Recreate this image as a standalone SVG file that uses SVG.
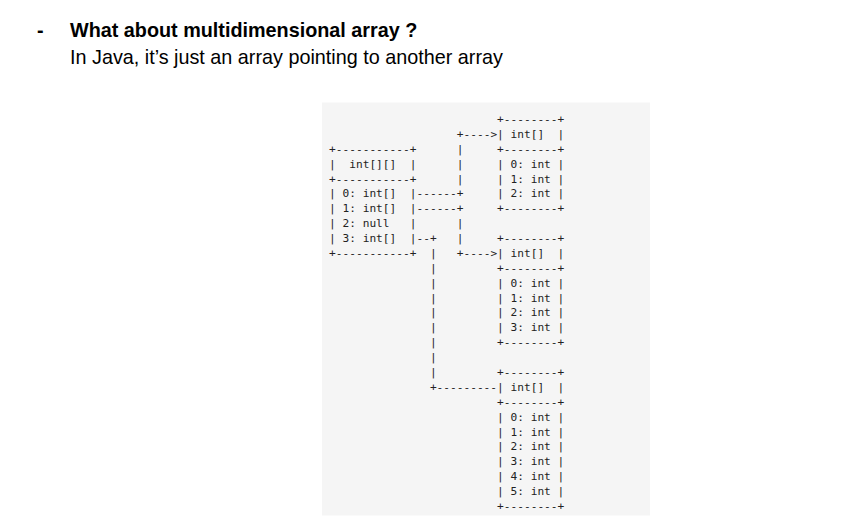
<svg xmlns="http://www.w3.org/2000/svg" width="841" height="531" viewBox="0 0 841 531">
<style>
  .h { font-family: "Liberation Sans", Arial, sans-serif; font-size: 19.8px; fill: #000; }
  .b { font-weight: bold; }
  .m { font-family: "DejaVu Sans Mono", "Liberation Mono", monospace; font-size: 11.16px; fill: #222; }
</style>
<rect width="841" height="531" fill="#fff"/>
<g id="heading">
  <text class="h b" x="37" y="36.5">-</text>
  <text class="h b" x="70" y="36.5">What about multidimensional array ?</text>
  <text class="h" x="70" y="64">In Java, it’s just an array pointing to another array</text>
</g>
<rect id="code-bg" x="322" y="102.5" width="328" height="413" fill="#f5f5f5"/>
<g id="outer-array" class="m">
  <text x="329.1" y="152.8">+-----------+</text>
  <text x="329.1" y="167.6">|&#160;&#160;int[][]&#160;&#160;|</text>
  <text x="329.1" y="182.5">+-----------+</text>
  <text x="329.1" y="197.4">|&#160;0:&#160;int[]&#160;&#160;|</text>
  <text x="329.1" y="212.3">|&#160;1:&#160;int[]&#160;&#160;|</text>
  <text x="329.1" y="227.2">|&#160;2:&#160;null&#160;&#160;&#160;|</text>
  <text x="329.1" y="242.0">|&#160;3:&#160;int[]&#160;&#160;|</text>
  <text x="329.1" y="256.9">+-----------+</text>
</g>
<g id="inner-array-0" class="m">
  <text x="497.1" y="123.0">+--------+</text>
  <text x="497.1" y="137.9">|&#160;int[]&#160;&#160;|</text>
  <text x="497.1" y="152.8">+--------+</text>
  <text x="497.1" y="167.6">|&#160;0:&#160;int&#160;|</text>
  <text x="497.1" y="182.5">|&#160;1:&#160;int&#160;|</text>
  <text x="497.1" y="197.4">|&#160;2:&#160;int&#160;|</text>
  <text x="497.1" y="212.3">+--------+</text>
</g>
<g id="inner-array-1" class="m">
  <text x="497.1" y="242.0">+--------+</text>
  <text x="497.1" y="256.9">|&#160;int[]&#160;&#160;|</text>
  <text x="497.1" y="271.8">+--------+</text>
  <text x="497.1" y="286.7">|&#160;0:&#160;int&#160;|</text>
  <text x="497.1" y="301.6">|&#160;1:&#160;int&#160;|</text>
  <text x="497.1" y="316.4">|&#160;2:&#160;int&#160;|</text>
  <text x="497.1" y="331.3">|&#160;3:&#160;int&#160;|</text>
  <text x="497.1" y="346.2">+--------+</text>
</g>
<g id="inner-array-3" class="m">
  <text x="497.1" y="376.0">+--------+</text>
  <text x="497.1" y="390.8">|&#160;int[]&#160;&#160;|</text>
  <text x="497.1" y="405.7">+--------+</text>
  <text x="497.1" y="420.6">|&#160;0:&#160;int&#160;|</text>
  <text x="497.1" y="435.5">|&#160;1:&#160;int&#160;|</text>
  <text x="497.1" y="450.4">|&#160;2:&#160;int&#160;|</text>
  <text x="497.1" y="465.2">|&#160;3:&#160;int&#160;|</text>
  <text x="497.1" y="480.1">|&#160;4:&#160;int&#160;|</text>
  <text x="497.1" y="495.0">|&#160;5:&#160;int&#160;|</text>
  <text x="497.1" y="509.9">+--------+</text>
</g>
<g id="connectors" class="m">
  <text x="456.8" y="137.9">+----&gt;</text>
  <text x="456.8" y="152.8">|</text>
  <text x="456.8" y="167.6">|</text>
  <text x="456.8" y="182.5">|</text>
  <text x="416.5" y="197.4">------+</text>
  <text x="416.5" y="212.3">------+</text>
  <text x="456.8" y="227.2">|</text>
  <text x="416.5" y="242.0">--+</text>
  <text x="456.8" y="242.0">|</text>
  <text x="429.9" y="256.9">|</text>
  <text x="456.8" y="256.9">+----&gt;</text>
  <text x="429.9" y="271.8">|</text>
  <text x="429.9" y="286.7">|</text>
  <text x="429.9" y="301.6">|</text>
  <text x="429.9" y="316.4">|</text>
  <text x="429.9" y="331.3">|</text>
  <text x="429.9" y="346.2">|</text>
  <text x="429.9" y="361.1">|</text>
  <text x="429.9" y="376.0">|</text>
  <text x="429.9" y="390.8">+---------</text>
</g>
</svg>
